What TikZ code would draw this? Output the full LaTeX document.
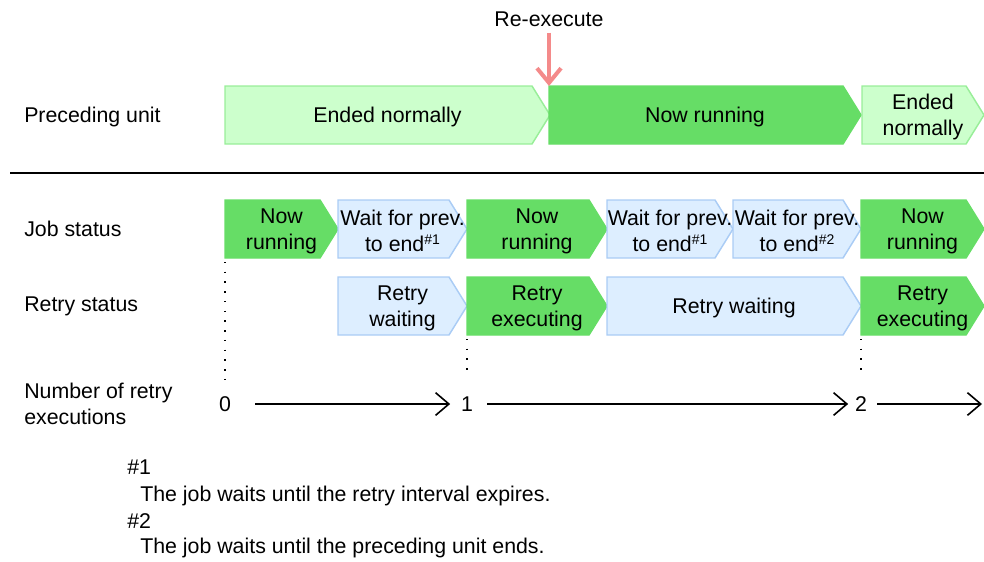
\documentclass[tikz,border=0pt]{standalone}
\usepackage{fontspec}
\setmainfont{Liberation Sans}
\usetikzlibrary{arrows.meta,positioning}
\definecolor{rnDark}{HTML}{66DD66}
\definecolor{rnLight}{HTML}{CCFFCC}
\definecolor{rnLightLine}{HTML}{99EE99}
\definecolor{wtFill}{HTML}{DDEEFF}
\definecolor{wtLine}{HTML}{AACCF5}
\definecolor{rePink}{HTML}{F48A8A}
\tikzset{
  runbox/.style={fill=rnDark,draw=rnDark,line width=1.1pt},
  endbox/.style={fill=rnLight,draw=rnLightLine,line width=1.1pt},
  waitbox/.style={fill=wtFill,draw=wtLine,line width=1.1pt},
  chevtext/.style={align=center,inner sep=0pt,yshift=-1.5pt,
    font=\fontsize{16}{19.5}\selectfont},
  rowlbl/.style={anchor=west,align=left,inner sep=0pt,
    font=\fontsize{16}{19}\selectfont},
  cnt/.style={inner sep=0pt,font=\fontsize{16}{19}\selectfont},
  cntarr/.style={-{Straight Barb[length=10pt,width=17pt]},line width=1.2pt},
  rearr/.style={-{Straight Barb[length=11pt,width=18pt]},line width=3pt,color=rePink},
  dotline/.style={line width=1.1pt,dash pattern=on 1.1pt off 6.2pt},
}
% chevron: style, name, left x, right x, centre y, text
\newcommand\chevron[6]{%
  \path[#1] (#3,#5-29) -- (#4-18,#5-29) -- (#4,#5) -- (#4-18,#5+29)
    -- (#3,#5+29) -- cycle;
  \node[chevtext] (#2) at ({(#3+#4)/2},#5) {#6};
  \coordinate (#2-nw) at (#3,#5-29);
  \coordinate (#2-sw) at (#3,#5+29);
}
\newcommand\supref[1]{\raisebox{5.5pt}{\fontsize{10.5}{12}\selectfont\##1}}

\begin{document}
\begin{tikzpicture}[x=0.75pt,y=-0.75pt]
  \useasboundingbox (0,0) rectangle (984,561);

  % preceding unit
  \node[rowlbl,yshift=-1.5pt] (lpre) at (24,115) {Preceding unit};
  \chevron{endbox}{pu1}{225}{550}{115}{Ended normally}
  \chevron{runbox}{pu2}{549}{861}{115}{Now running}
  \chevron{endbox}{pu3}{862}{984}{115}{Ended\\normally}

  \node[chevtext,yshift=1.5pt] (rex) at (549,19) {Re-execute};
  \draw[rearr,shorten <=4.5pt] (rex.south) -- (pu2-nw);

  \draw[line width=1.1pt] (10,173) -- (984,173);

  % job status
  \node[rowlbl,yshift=-0.8pt] (ljob) at (24,228) {Job status};
  \chevron{runbox}{js1}{225}{338}{229}{Now\\running}
  \chevron{waitbox}{js2}{338}{467}{229}{Wait for prev.\\to end\supref{1}}
  \chevron{runbox}{js3}{467}{607}{229}{Now\\running}
  \chevron{waitbox}{js4}{607}{733}{229}{Wait for prev.\\to end\supref{1}}
  \chevron{waitbox}{js5}{733}{861}{229}{Wait for prev.\\to end\supref{2}}
  \chevron{runbox}{js6}{861}{984}{229}{Now\\running}

  % retry status
  \node[rowlbl,yshift=-1.5pt] (lret) at (24,304) {Retry status};
  \chevron{waitbox}{rs1}{338}{467}{306}{Retry\\waiting}
  \chevron{runbox}{rs2}{467}{607}{306}{Retry\\executing}
  \chevron{waitbox}{rs3}{607}{861}{306}{Retry waiting}
  \chevron{runbox}{rs4}{861}{984}{306}{Retry\\executing}

  % number of retry executions
  \node[rowlbl] (lnum) at (24,404) {Number of retry\\executions};
  \node[cnt] (n0) at (225,404) {0};
  \node[cnt] (n1) at (467,404) {1};
  \node[cnt] (n2) at (861,404) {2};
  \coordinate (nend) at (982,404);
  \draw[cntarr] ([xshift=18pt]n0.east) -- ([xshift=-8pt]n1.west);
  \draw[cntarr] ([xshift=10.5pt]n1.east) -- ([xshift=-5pt]n2.west);
  \draw[cntarr] ([xshift=7.5pt]n2.east) -- (nend);

  \draw[dotline,shorten <=3pt,shorten >=12pt] (js1-sw) -- (n0.north);
  \draw[dotline,shorten <=3pt,shorten >=18pt] (rs2-sw) -- (n1.north);
  \draw[dotline,shorten <=3pt,shorten >=18pt] (rs4-sw) -- (n2.north);

  % notes
  \node[rowlbl] (fn1) at (127,467) {\#1};
  \node[rowlbl] (fn1t) at (140,496) {The job waits until the retry interval expires.};
  \node[rowlbl] (fn2) at (127,521) {\#2};
  \node[rowlbl] (fn2t) at (140,548) {The job waits until the preceding unit ends.};
\end{tikzpicture}
\end{document}
